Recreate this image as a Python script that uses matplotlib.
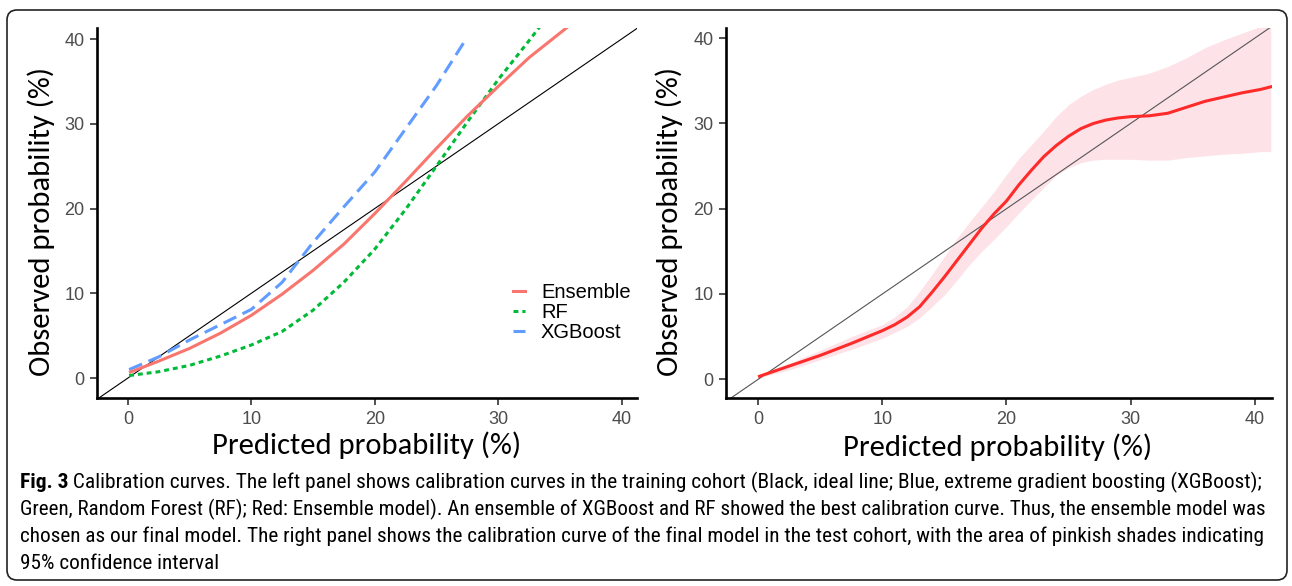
import matplotlib
matplotlib.use("Agg")
import matplotlib.pyplot as plt
from matplotlib import font_manager
from matplotlib.patches import FancyBboxPatch
from matplotlib.lines import Line2D
from matplotlib.transforms import IdentityTransform

W, H = 1292, 586

# training cohort, left panel (percent)
ens_x = [0.1, 2.5, 5, 7.5, 10, 12.5, 15, 17.5, 20, 22.5, 25, 27.5, 30, 32.5, 35.7]
ens_y = [0.65, 2.0, 3.5, 5.3, 7.4, 9.9, 12.7, 15.8, 19.4, 23.2, 27.1, 30.9, 34.4, 37.8, 41.5]

rf_x = [0.1, 2.5, 5, 7.5, 10, 12.5, 15, 17.5, 20, 22.5, 25, 27.5, 30, 32.5, 33.4]
rf_y = [0.3, 0.75, 1.5, 2.6, 3.9, 5.5, 8.0, 11.3, 15.2, 19.9, 25.0, 30.2, 35.2, 39.8, 41.5]

xgb_x = [0.1, 2.5, 5, 7.5, 10, 12.5, 15, 17.5, 20, 22.5, 25, 27.4]
xgb_y = [1.0, 2.5, 4.5, 6.3, 8.1, 11.3, 16.0, 20.2, 24.3, 29.4, 34.5, 40.0]

# test cohort, right panel (percent)
test_x = [0.1, 2.5, 5, 7.5, 10, 11, 12, 13, 14, 15, 16, 17, 18, 19, 20, 21, 22, 23, 24,
          25, 26, 27, 28, 29, 30, 31.5, 33, 34.5, 36, 37.5, 39, 40.5, 41.3]
test_y = [0.35, 1.55, 2.8, 4.2, 5.7, 6.4, 7.3, 8.5, 10.2, 12.0, 13.9, 15.8, 17.7, 19.4, 20.9,
          22.8, 24.5, 26.1, 27.4, 28.5, 29.4, 30.0, 30.4, 30.65, 30.8, 30.9, 31.2, 31.9,
          32.6, 33.1, 33.6, 34.0, 34.3]
test_hi = [0.5, 1.9, 3.4, 5.0, 6.4, 7.3, 8.5, 10.3, 12.3, 14.4, 16.5, 18.4, 20.2, 22.0, 24.0,
           25.9, 27.5, 29.1, 30.8, 32.2, 33.2, 34.0, 34.6, 35.1, 35.4, 35.9, 36.7, 37.7,
           38.9, 39.8, 40.6, 41.4, 41.6]
test_lo = [0.2, 1.1, 2.3, 3.5, 4.8, 5.5, 6.2, 7.2, 8.5, 9.9, 11.6, 13.4, 15.0, 16.4, 17.9,
           19.5, 21.0, 22.5, 23.9, 24.8, 25.4, 25.7, 25.8, 25.8, 25.8, 25.7, 25.7, 26.0,
           26.2, 26.4, 26.5, 26.7, 26.7]

ticks = [0, 10, 20, 30, 40]
legend_labels = ["Ensemble", "RF", "XGBoost"]
xlabel = "Predicted probability (%)"
ylabel = "Observed probability (%)"

caption_bold = "Fig. 3"
caption_lines = [
    " Calibration curves. The left panel shows calibration curves in the training cohort (Black, ideal line; Blue, extreme gradient boosting (XGBoost);",
    "Green, Random Forest (RF); Red: Ensemble model). An ensemble of XGBoost and RF showed the best calibration curve. Thus, the ensemble model was",
    "chosen as our final model. The right panel shows the calibration curve of the final model in the test cohort, with the area of pinkish shades indicating",
    "95% confidence interval",
]


def have_font(name):
    try:
        font_manager.findfont(font_manager.FontProperties(family=name),
                              fallback_to_default=False)
        return True
    except ValueError:
        return False


def first_font(names):
    for n in names:
        if have_font(n):
            return n
    return "DejaVu Sans"


title_font = first_font(["Carlito", "Lato", "Open Sans", "DejaVu Sans"])
tick_font = first_font(["Liberation Sans", "Arial", "DejaVu Sans"])
cap_font = first_font(["Liberation Sans Narrow", "Roboto Condensed", "Open Sans Condensed",
                       "Lato", "Liberation Sans"])

fig = plt.figure(figsize=(W / 100, H / 100), dpi=100)


def px_axes(left, top, right, bottom):
    return fig.add_axes([left / W, 1 - bottom / H, (right - left) / W, (bottom - top) / H])


def style(ax, xlim, ylim):
    ax.set_xlim(*xlim)
    ax.set_ylim(*ylim)
    ax.spines["top"].set_visible(False)
    ax.spines["right"].set_visible(False)
    for s in ["left", "bottom"]:
        ax.spines[s].set_linewidth(1.9)
        ax.spines[s].set_color("black")
    ax.set_xticks(ticks)
    ax.set_yticks(ticks)
    ax.tick_params(length=5, width=1.2, color="#333333", labelsize=13,
                   labelcolor="#4D4D4D", pad=4)
    for lab in ax.get_xticklabels() + ax.get_yticklabels():
        lab.set_fontfamily(tick_font)


# left panel
ax1 = px_axes(97, 28, 637, 398)
ax1.axline((0, 0), slope=1, color="black", lw=0.8, zorder=1)
ax1.plot(ens_x, ens_y, color="#F8766D", lw=2.2, solid_capstyle="butt", zorder=3)
ax1.plot(rf_x, rf_y, color="#00BA38", lw=2.2, dashes=(1.6, 1.3), dash_capstyle="butt", zorder=2)
ax1.plot(xgb_x, xgb_y, color="#619CFF", lw=2.2, dashes=(4.6, 2.3), dash_capstyle="butt", zorder=2)
style(ax1, (-2.5, 41.25), (-2.35, 41.3))

handles = [Line2D([], [], color="#F8766D", lw=2.2),
           Line2D([], [], color="#00BA38", lw=2.2, dashes=(1.6, 1.3)),
           Line2D([], [], color="#619CFF", lw=2.2, dashes=(4.6, 2.3))]
ax1.legend(handles, legend_labels, loc="upper left", bbox_to_anchor=(0.77, 0.31),
           frameon=False, borderpad=0, borderaxespad=0, handlelength=0.6,
           handletextpad=0.8, labelspacing=0.05,
           prop={"family": tick_font, "size": 14.5})

# right panel
ax2 = px_axes(726, 28, 1272, 398)
ax2.fill_between(test_x, test_lo, test_hi, color="#FDE3E8", lw=0, zorder=1)
ax2.axline((0, 0), slope=1, color="#555555", lw=0.8, zorder=2)
ax2.plot(test_x, test_y, color="#FF2A2A", lw=2.2, zorder=3)
style(ax2, (-2.6, 41.4), (-2.2, 41.2))

# axis titles
titles = [
    fig.text(367 / W, 1 - 445 / H, xlabel, ha="center", va="center"),
    fig.text(998 / W, 1 - 447 / H, xlabel, ha="center", va="center"),
    fig.text(41 / W, 1 - 222 / H, ylabel, ha="center", va="center", rotation=90),
    fig.text(669 / W, 1 - 222 / H, ylabel, ha="center", va="center", rotation=90),
]
for t in titles:
    t.set_fontfamily(title_font)
    t.set_fontsize(20)
    t.set_color("black")

# caption
x0 = 20
bold = fig.text(x0 / W, 1 - 488 / H, caption_bold, fontweight="bold", fontsize=12,
                family=cap_font, va="baseline", ha="left")
rest = [fig.text(x0 / W, 1 - (488 + 27 * i) / H, line, fontsize=12, family=cap_font,
                 va="baseline", ha="left") for i, line in enumerate(caption_lines)]

r = fig.canvas.get_renderer()
# fit title text width to the reference (about 309 px)
for t in titles:
    ext = t.get_window_extent(r)
    w = ext.height if t.get_rotation() == 90 else ext.width
    t.set_fontsize(t.get_fontsize() * 309 / w)

# justify the first three caption lines to about 1242 px
wb = bold.get_window_extent(r).width
wr = rest[0].get_window_extent(r).width
s = 1242 / (wb + wr)
bold.set_fontsize(12 * s)
rest[0].set_fontsize(12 * s)
for t in rest[1:3]:
    t.set_fontsize(12 * 1242 / t.get_window_extent(r).width)
rest[3].set_fontsize(rest[2].get_fontsize())
wb = bold.get_window_extent(r).width
rest[0].set_x((x0 + wb) / W)

# rounded frame
frame = FancyBboxPatch((7, 6), 1280, 570, boxstyle="round,pad=0,rounding_size=10",
                       transform=IdentityTransform(), fill=False, ec="#222222", lw=1.2)
fig.add_artist(frame)

fig.savefig("out.png", dpi=100)
